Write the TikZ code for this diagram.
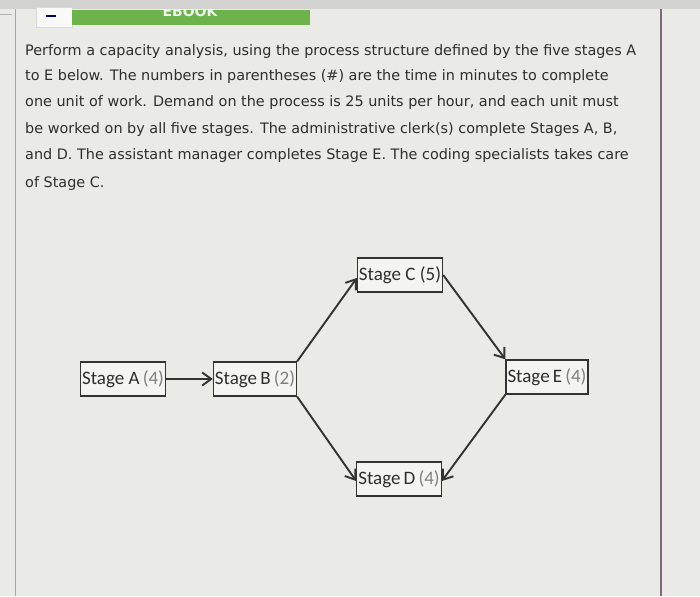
\documentclass[tikz,border=0pt]{standalone}
\usepackage{fontspec}
\setmainfont{DejaVu Sans}
\newfontfamily\boxfont{Carlito}
\usetikzlibrary{arrows.meta}
\definecolor{bgc}{HTML}{EAEAE7}
\definecolor{topc}{HTML}{D2D2D0}
\definecolor{greenbar}{HTML}{6DB24A}
\definecolor{txt}{HTML}{2E2E2E}
\definecolor{linec}{HTML}{333333}
\definecolor{numc}{HTML}{808080}
\tikzset{
  stagebox/.style={draw=linec, line width=1.3pt, fill=white!50!bgc, inner xsep=1.5pt, inner ysep=0pt, minimum height=34pt, font=\boxfont\fontsize{19}{19}\selectfont, text=txt},
  conn/.style={draw=linec, line width=1.9pt, -{Straight Barb[length=9pt, width=13pt, line width=1.9pt]}},
  para/.style={anchor=base west, inner sep=0pt, text=txt, font=\fontsize{14.4}{16}\selectfont}
}
\begin{document}
\begin{tikzpicture}[x=1pt, y=-1pt]
\useasboundingbox (0,0) rectangle (700,596);
\fill[bgc] (0,0) rectangle (700,596);
\fill[topc] (0,0) rectangle (700,9);
\draw[gray!70, line width=1pt] (15,9) -- (15,596);
\draw[gray!80!violet, line width=1.2pt] (661,9) -- (661,596);
\draw[gray!60, line width=0.8pt] (0,14) -- (12,14);
% tab and green bar
\fill[white!70!bgc, draw=gray!30] (36,7) rectangle (72,27);
\fill[blue!40!black] (46,15) rectangle (56,17);
\fill[greenbar] (72,10) rectangle (310,25);
\begin{scope}
\clip (72,10) rectangle (310,25);
\node[text=white!90!greenbar, font=\bfseries\fontsize{14}{14}\selectfont, anchor=base] (ebook) at (190,17) {EBOOK};
\end{scope}
% paragraph
\node[para] (l1) at (25,56) {Perform a capacity analysis, using the process structure defined by the five stages A};
\node[para] (l2) at (25,81) {to E below. The numbers in parentheses (\#) are the time in minutes to complete};
\node[para] (l3) at (25,107) {one unit of work. Demand on the process is 25 units per hour, and each unit must};
\node[para] (l4) at (25,134) {be worked on by all five stages. The administrative clerk(s) complete Stages A, B,};
\node[para] (l5) at (25,160) {and D. The assistant manager completes Stage E. The coding specialists takes care};
\node[para] (l6) at (25,187) {of Stage C.};
% diagram
\node[stagebox] (A) at (123,379) {Stage A\,{\color{numc}(4)}};
\node[stagebox] (B) at (255,379) {Stage\,B\,{\color{numc}(2)}};
\node[stagebox] (C) at (400,275) {Stage C (5)};
\node[stagebox] (D) at (399,479) {Stage\,D\,{\color{numc}(4)}};
\node[stagebox] (E) at (547,377) {Stage\,E\,{\color{numc}(4)}};
\draw[conn] (A.east) -- (B.west);
\draw[conn] (B.north east) -- ([yshift=-3pt]C.west);
\draw[conn] (B.south east) -- ([yshift=-2pt]D.west);
\draw[conn] (C.east) -- (E.north west);
\draw[conn] (E.south west) -- ([yshift=-2pt]D.east);
\end{tikzpicture}
\end{document}
